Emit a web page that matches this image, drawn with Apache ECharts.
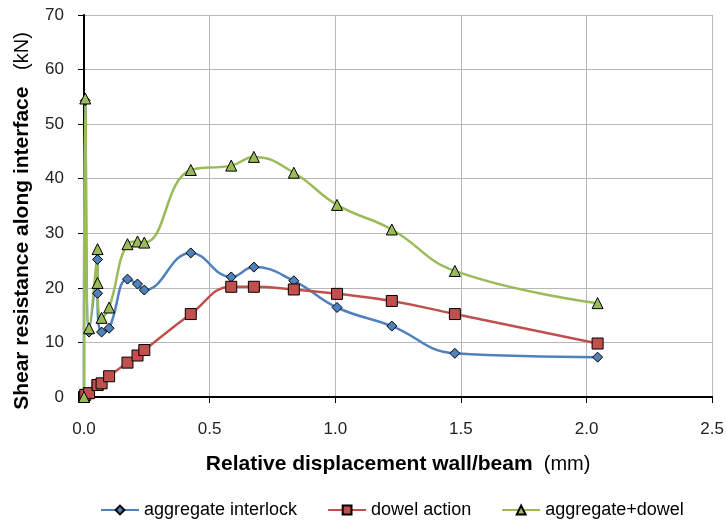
<!DOCTYPE html>
<html>
<head>
  <meta charset="utf-8">
  <script src="https://cdn.jsdelivr.net/npm/echarts@6/dist/echarts.min.js"></script>
</head>
<body style="margin:0">
<div id="main" style="width:727px;height:521px;"></div>
<script type="text/javascript">
// displacement (mm), shared by all three series
var displacement = [0, 0.005, 0.02, 0.054, 0.054, 0.07, 0.1, 0.173, 0.213, 0.24, 0.425, 0.586, 0.676, 0.835, 1.007, 1.225, 1.476, 2.044];
var aggInterlock = [0, 54.3, 11.9, 25.2, 19.0, 11.9, 12.6, 21.6, 20.7, 19.6, 26.4, 22.0, 23.8, 21.3, 16.4, 13.0, 8.0, 7.3];
var dowelAction = [0, 0.4, 0.7, 2.2, 2.2, 2.5, 3.8, 6.3, 7.6, 8.6, 15.2, 20.2, 20.2, 19.7, 18.9, 17.6, 15.2, 9.8];
var aggDowel = [0, 54.7, 12.6, 27.1, 20.9, 14.5, 16.4, 28.0, 28.5, 28.3, 41.6, 42.4, 44.0, 41.1, 35.2, 30.7, 23.1, 17.2];
var seriesNames = ['aggregate interlock', 'dowel action', 'aggregate+dowel'];

function pairs(ys) {
  var res = [];
  for (var i = 0; i < displacement.length; i++) res.push([displacement[i], ys[i]]);
  return res;
}

var font = 'Liberation Sans';
var myChart = echarts.init(document.getElementById('main'));

function mkSeries(name, ys, color, symbol, size) {
  return {
    name: name,
    type: 'line',
    data: pairs(ys),
    smooth: 0.45,
    symbol: symbol,
    symbolSize: size,
    itemStyle: { color: color, borderColor: '#000', borderWidth: 1 },
    lineStyle: { color: color, width: 2.5 },
    emphasis: { disabled: true }
  };
}

myChart.setOption({
  animation: false,
  textStyle: { fontFamily: font },
  grid: { left: 84, right: 13, top: 15, bottom: 124 },
  legend: {
    bottom: 2,
    left: 100,
    padding: 0,
    itemGap: 30,
    itemWidth: 38,
    itemHeight: 11,
    textStyle: { fontFamily: font, fontSize: 18, color: '#000' },
    data: seriesNames
  },
  xAxis: {
    type: 'value',
    min: 0, max: 2.5, interval: 0.5,
    name: '{b|Relative displacement wall/beam}{n|  (mm)}',
    nameLocation: 'middle',
    nameGap: 57,
    nameTextStyle: {
      rich: {
        b: { fontFamily: font, fontSize: 21, fontWeight: 'bold', color: '#000' },
        n: { fontFamily: font, fontSize: 20, color: '#000' }
      }
    },
    axisLine: { lineStyle: { color: '#000', width: 2 } },
    axisTick: { show: true, length: 6, lineStyle: { color: '#000' } },
    axisLabel: { fontFamily: font, fontSize: 17, color: '#222', margin: 24,
      formatter: function (v) { return v.toFixed(1); } },
    splitLine: { show: true, lineStyle: { color: '#b8b8b8', width: 1 } }
  },
  yAxis: {
    type: 'value',
    min: 0, max: 70, interval: 10,
    name: '{b|Shear resistance along interface}{n|   (kN)}',
    nameLocation: 'middle',
    nameGap: 51,
    nameRotate: 90,
    nameTextStyle: {
      padding: [0, 30, 0, 0],
      rich: {
        b: { fontFamily: font, fontSize: 21, fontWeight: 'bold', color: '#000' },
        n: { fontFamily: font, fontSize: 20, color: '#000' }
      }
    },
    axisLine: { show: true, lineStyle: { color: '#000', width: 2 } },
    axisTick: { show: true, length: 6, lineStyle: { color: '#000' } },
    axisLabel: { fontFamily: font, fontSize: 17, color: '#222', margin: 20 },
    splitLine: { show: true, lineStyle: { color: '#b8b8b8', width: 1 } }
  },
  series: [
    mkSeries(seriesNames[0], aggInterlock, '#4F81BD', 'diamond', 10),
    mkSeries(seriesNames[1], dowelAction, '#C0504D', 'rect', 11),
    mkSeries(seriesNames[2], aggDowel, '#9BBB59', 'triangle', 11)
  ]
});
</script>
</body>
</html>
